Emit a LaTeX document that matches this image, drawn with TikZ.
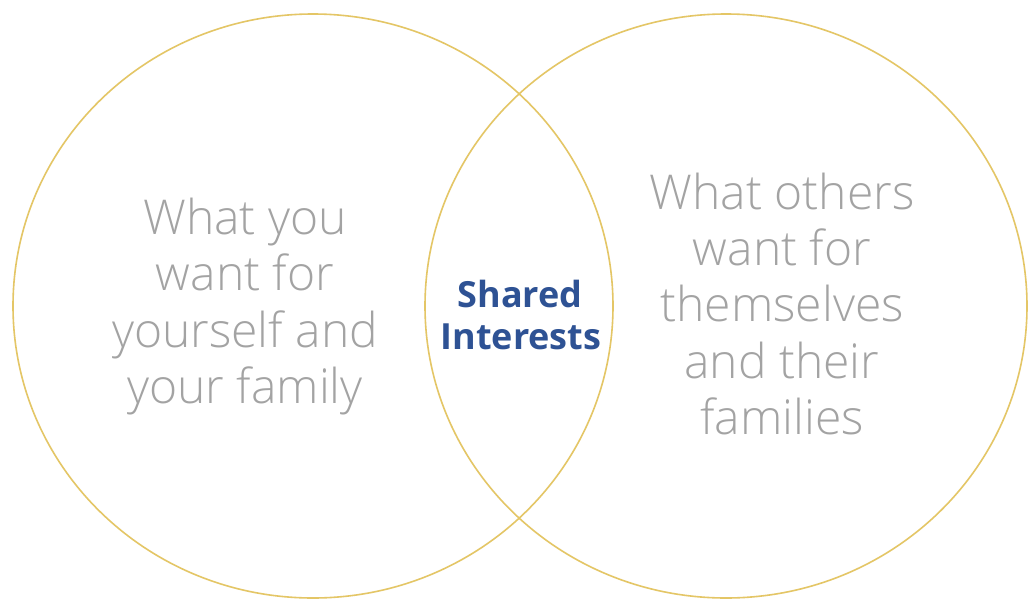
\documentclass[tikz,border=0pt]{standalone}
\usepackage{fontspec}
\setmainfont{Open Sans}
\newfontfamily\lightfont{Open Sans Light}
\definecolor{ringgold}{RGB}{228,198,102}
\definecolor{softgray}{RGB}{163,163,163}
\definecolor{shareblue}{RGB}{46,82,148}
\tikzset{
  ring/.style={draw=ringgold, line width=1.6pt},
  sidetext/.style={anchor=base, inner sep=0pt, text=softgray, font=\lightfont\fontsize{48}{56}\selectfont},
  midtext/.style={anchor=base, inner sep=0pt, text=shareblue, font=\bfseries\fontsize{36}{43}\selectfont}
}
\begin{document}
\begin{tikzpicture}[x=1pt,y=-1pt]
\useasboundingbox[fill=white] (0,0) rectangle (1028,600);
\draw[ring] (313,306) ellipse [x radius=300, y radius=292];
\draw[ring] (726,306) ellipse [x radius=301, y radius=292];
% left text
\node[sidetext] (l1) at (245,234) {What you};
\node[sidetext] (l2) at (245,290.5) {want for};
\node[sidetext] (l3) at (245,347) {yourself and};
\node[sidetext] (l4) at (245,403) {your family};
% right text
\node[sidetext] (r1) at (782,209) {What others};
\node[sidetext] (r2) at (782,265) {want for};
\node[sidetext] (r3) at (782,321.5) {themselves};
\node[sidetext] (r4) at (782,378) {and their};
\node[sidetext] (r5) at (782,434.5) {families};
% middle
\node[midtext] (m1) at (520,307) {Shared};
\node[midtext] (m2) at (521,349) {Interests};
\end{tikzpicture}
\end{document}
